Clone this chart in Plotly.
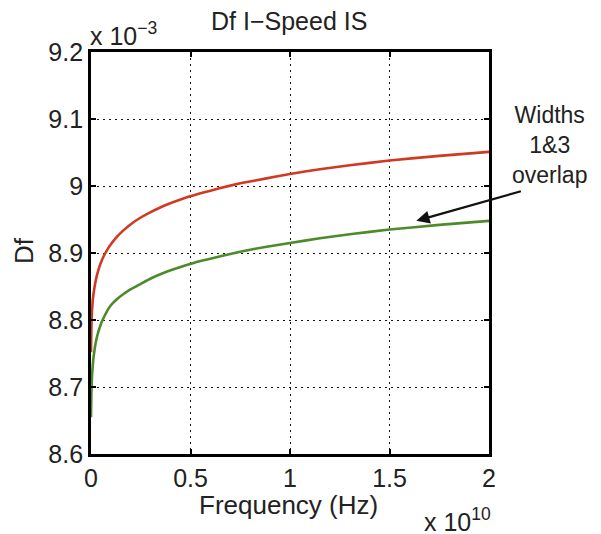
import plotly.graph_objects as go

# Data (frequency in units of 1e10 Hz, Df in units of 1e-3)
freq_e10 = [0, 0.002, 0.005, 0.009, 0.013, 0.02, 0.03, 0.045, 0.06, 0.08, 0.1, 0.13, 0.16, 0.2,
            0.25, 0.3, 0.37, 0.45, 0.55, 0.65, 0.75, 0.875, 1.0, 1.15, 1.3, 1.5, 1.75, 2.0]
df_red = [8.752, 8.790, 8.814, 8.830, 8.840, 8.853, 8.867, 8.882, 8.893, 8.904, 8.913, 8.924, 8.933, 8.943,
          8.953, 8.961, 8.971, 8.980, 8.989, 8.997, 9.004, 9.011, 9.018, 9.025, 9.031, 9.038, 9.045, 9.051]
df_green = [8.655, 8.692, 8.716, 8.733, 8.745, 8.760, 8.775, 8.790, 8.801, 8.813, 8.822, 8.831, 8.838, 8.846,
            8.854, 8.862, 8.871, 8.879, 8.888, 8.895, 8.902, 8.909, 8.915, 8.922, 8.928, 8.935, 8.942, 8.948]

x_ticks = [0, 0.5, 1, 1.5, 2]
x_ticktext = ["0", "0.5", "1", "1.5", "2"]
y_ticks = [8.6, 8.7, 8.8, 8.9, 9.0, 9.1, 9.2]
y_ticktext = ["8.6", "8.7", "8.8", "8.9", "9", "9.1", "9.2"]

FONT = "Liberation Sans, Arial, sans-serif"

fig = go.Figure()
fig.add_trace(go.Scatter(x=freq_e10, y=df_red, mode="lines",
                         line=dict(color="#d03a22", width=2.6, shape="spline", smoothing=0.3),
                         showlegend=False))
fig.add_trace(go.Scatter(x=freq_e10, y=df_green, mode="lines",
                         line=dict(color="#4d8a2a", width=2.6, shape="spline", smoothing=0.3),
                         showlegend=False))

axis_common = dict(showline=True, linecolor="black", linewidth=2.8, mirror="allticks",
                   ticks="inside", ticklen=5, tickwidth=1.5, tickcolor="black",
                   showgrid=True, gridcolor="#111", griddash="2px,4px", gridwidth=1.3,
                   zeroline=False, automargin=False,
                   tickfont=dict(family=FONT, size=25, color="#222"))

fig.update_xaxes(range=[0, 2], tickvals=x_ticks, ticktext=x_ticktext, **axis_common)
fig.update_yaxes(range=[8.6, 9.2], tickvals=y_ticks, ticktext=y_ticktext, **axis_common)

fig.update_layout(
    width=593, height=526,
    margin=dict(l=83, r=112, t=44, b=80, pad=0),
    plot_bgcolor="white", paper_bgcolor="white",
    font=dict(family=FONT, color="#222"),
    annotations=[
        dict(text="Df I\u2212Speed IS", xref="paper", yref="paper", x=0.497, y=1, yshift=16,
             xanchor="center", yanchor="bottom", showarrow=False, borderpad=0, font=dict(size=25)),
        dict(text="x 10<sup>\u22123</sup>", xref="paper", yref="paper", x=0, y=1, yshift=1, xshift=-2,
             xanchor="left", yanchor="bottom", showarrow=False, borderpad=0, font=dict(size=25)),
        dict(text="Frequency (Hz)", xref="paper", yref="paper", x=0.497, y=0, yshift=-35,
             xanchor="center", yanchor="top", showarrow=False, borderpad=0, font=dict(size=26)),
        dict(text="x 10<sup>10</sup>", xref="paper", yref="paper", x=1, y=0, yshift=-49, xshift=3,
             xanchor="right", yanchor="top", showarrow=False, borderpad=0, font=dict(size=25)),
        dict(text="Df", xref="paper", yref="paper", x=0, y=0.5, xshift=-67, yshift=2,
             xanchor="center", yanchor="middle", textangle=-90, showarrow=False, borderpad=0,
             font=dict(size=26)),
        dict(text="Widths<br>1&amp;3<br>overlap", xref="paper", yref="paper", x=1.153, y=0.768,
             xanchor="center", yanchor="middle", align="center", showarrow=False, borderpad=0,
             font=dict(size=23)),
        dict(text="", x=1.635, y=8.948, xref="x", yref="y", ax=106, ay=-30,
             showarrow=True, arrowhead=2, arrowsize=1.2, arrowwidth=2.2, arrowcolor="#111"),
    ],
)

fig.write_html("out.html")
